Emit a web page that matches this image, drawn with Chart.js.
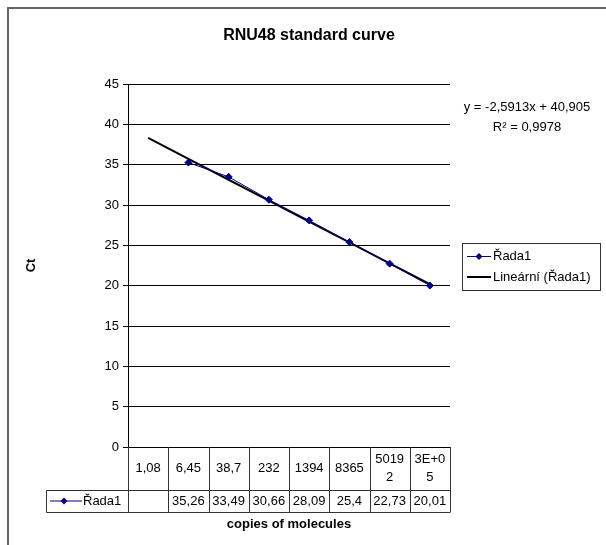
<!DOCTYPE html>
<html>
<head>
<meta charset="utf-8">
<script src="https://cdn.jsdelivr.net/npm/chart.js@4/dist/chart.umd.min.js"></script>
<style>
  html, body { margin: 0; padding: 0; background: #fff; }
  canvas { display: block; }
</style>
</head>
<body>
<canvas id="curveChart" width="606" height="545"></canvas>
<script>
// chart data
var categories = ["1,08", "6,45", "38,7", "232", "1394", "8365", "50192", "3E+05"];
var ctValues = [null, 35.26, 33.49, 30.66, 28.09, 25.4, 22.73, 20.01];
// linear trendline y = -2,5913x + 40,905 read at each category (x = 1..8)
var trendValues = [38.31, 35.72, 33.13, 30.54, 27.95, 25.36, 22.77, 20.18];
var yTicks = [0, 5, 10, 15, 20, 25, 30, 35, 40, 45];

var seriesName = "Řada1";
var trendName = "Lineární (Řada1)";
var equationText = "y = -2,5913x + 40,905";
var r2Text = "R² = 0,9978";

var FONT = "'Liberation Sans', Arial, sans-serif";
var NAVY = "#000080";

function fmt(v) {
  return v == null ? "" : String(v).replace(".", ",");
}

function drawDiamond(ctx, x, y, r) {
  ctx.beginPath();
  ctx.moveTo(x, y - r);
  ctx.lineTo(x + r, y);
  ctx.lineTo(x, y + r);
  ctx.lineTo(x - r, y);
  ctx.closePath();
  ctx.fill();
}

// wrap a category label into lines that fit the cell
function wrapLabel(ctx, text, maxW) {
  if (ctx.measureText(text).width <= maxW) return [text];
  var lines = [];
  var cur = "";
  for (var i = 0; i < text.length; i++) {
    if (ctx.measureText(cur + text[i]).width > maxW && cur) {
      lines.push(cur);
      cur = text[i];
    } else {
      cur += text[i];
    }
  }
  lines.push(cur);
  return lines;
}

var extrasPlugin = {
  id: "extras",
  afterDraw: function (chart) {
    var ctx = chart.ctx;
    var area = chart.chartArea;
    var xs = chart.scales.x;
    var cellW = (area.right - area.left) / categories.length;
    var row1Top = area.bottom, row1Bot = area.bottom + 43, row2Bot = row1Bot + 22;
    var keyLeft = 46.5;

    ctx.save();

    // outer chart border
    ctx.strokeStyle = "#666";
    ctx.lineWidth = 2;
    ctx.strokeRect(8, 8, 700, 700);

    // title
    ctx.fillStyle = "#000";
    ctx.font = "bold 16px " + FONT;
    ctx.textAlign = "center";
    ctx.textBaseline = "middle";
    ctx.fillText("RNU48 standard curve", 309, 36);

    // data table grid
    ctx.strokeStyle = "#333";
    ctx.lineWidth = 1;
    ctx.beginPath();
    for (var i = 0; i <= categories.length; i++) {
      var bx = Math.round(area.left + i * cellW) + 0.5;
      ctx.moveTo(bx, row1Top);
      ctx.lineTo(bx, row2Bot);
    }
    ctx.moveTo(keyLeft, Math.round(row1Bot) + 0.5);
    ctx.lineTo(area.right + 0.5, Math.round(row1Bot) + 0.5);
    ctx.moveTo(keyLeft, Math.round(row2Bot) + 0.5);
    ctx.lineTo(area.right + 0.5, Math.round(row2Bot) + 0.5);
    ctx.moveTo(keyLeft, Math.round(row1Bot) + 0.5);
    ctx.lineTo(keyLeft, Math.round(row2Bot) + 0.5);
    ctx.stroke();

    // category row and value row
    ctx.font = "13px " + FONT;
    ctx.fillStyle = "#000";
    ctx.textAlign = "center";
    ctx.textBaseline = "middle";
    var midRow1 = (row1Top + row1Bot) / 2;
    var midRow2 = (row1Bot + row2Bot) / 2;
    categories.forEach(function (c, idx) {
      var cx = xs.getPixelForValue(idx);
      var lines = wrapLabel(ctx, c, cellW - 8);
      var lh = 18;
      var startY = midRow1 - (lines.length - 1) * lh / 2;
      lines.forEach(function (ln, j) {
        ctx.fillText(ln, cx, startY + j * lh);
      });
      ctx.fillText(fmt(ctValues[idx]), cx, midRow2);
    });

    // legend key in the table
    ctx.strokeStyle = NAVY;
    ctx.fillStyle = NAVY;
    ctx.beginPath();
    ctx.moveTo(50, midRow2);
    ctx.lineTo(82, midRow2);
    ctx.stroke();
    drawDiamond(ctx, 64, midRow2, 3.5);
    ctx.fillStyle = "#000";
    ctx.textAlign = "left";
    ctx.fillText(seriesName, 83, midRow2);

    // x axis title
    ctx.font = "bold 13px " + FONT;
    ctx.textAlign = "center";
    ctx.fillText("copies of molecules", (area.left + area.right) / 2, 524);

    // trendline equation
    ctx.font = "13px " + FONT;
    ctx.fillText(equationText, 527, 107);
    ctx.fillText(r2Text, 527, 127);

    // legend box
    ctx.strokeStyle = "#333";
    ctx.lineWidth = 1;
    ctx.strokeRect(462.5, 243.5, 138, 47);
    ctx.strokeStyle = NAVY;
    ctx.fillStyle = NAVY;
    ctx.beginPath();
    ctx.moveTo(467, 256.5);
    ctx.lineTo(491, 256.5);
    ctx.stroke();
    drawDiamond(ctx, 479, 256.5, 3.5);
    ctx.strokeStyle = "#000";
    ctx.lineWidth = 2;
    ctx.beginPath();
    ctx.moveTo(467, 277);
    ctx.lineTo(491, 277);
    ctx.stroke();
    ctx.fillStyle = "#000";
    ctx.textAlign = "left";
    ctx.fillText(seriesName, 493, 256);
    ctx.fillText(trendName, 493, 277);

    ctx.restore();
  }
};

var ctx = document.getElementById("curveChart").getContext("2d");
var curveChart = new Chart(ctx, {
  type: "line",
  data: {
    labels: categories,
    datasets: [
      {
        label: seriesName,
        data: ctValues,
        borderColor: NAVY,
        backgroundColor: NAVY,
        borderWidth: 1,
        pointStyle: "rectRot",
        pointRadius: 3.5,
        pointBackgroundColor: NAVY,
        pointBorderColor: NAVY,
        pointBorderWidth: 1,
        tension: 0
      },
      {
        label: trendName,
        data: trendValues,
        borderColor: "#000",
        borderWidth: 2,
        pointRadius: 0,
        tension: 0
      }
    ]
  },
  options: {
    responsive: false,
    devicePixelRatio: 1,
    animation: false,
    layout: {
      padding: { left: 0, right: 156, top: 84, bottom: 98 }
    },
    plugins: {
      legend: { display: false },
      tooltip: { enabled: false }
    },
    scales: {
      x: {
        type: "category",
        offset: true,
        display: false
      },
      y: {
        min: 0,
        max: 45,
        afterBuildTicks: function (scale) {
          scale.ticks = yTicks.map(function (v) { return { value: v }; });
        },
        afterFit: function (scale) {
          scale.width = 128;
        },
        ticks: {
          color: "#000",
          padding: 4,
          font: { family: FONT, size: 13 }
        },
        grid: {
          color: "#000",
          lineWidth: 1,
          tickLength: 5,
          drawTicks: true
        },
        border: { display: true, color: "#000", width: 1 },
        title: {
          display: true,
          text: "Ct",
          color: "#000",
          font: { family: FONT, size: 13, weight: "bold" },
          padding: { top: 24, bottom: 0 }
        }
      }
    }
  },
  plugins: [extrasPlugin]
});
</script>
</body>
</html>
